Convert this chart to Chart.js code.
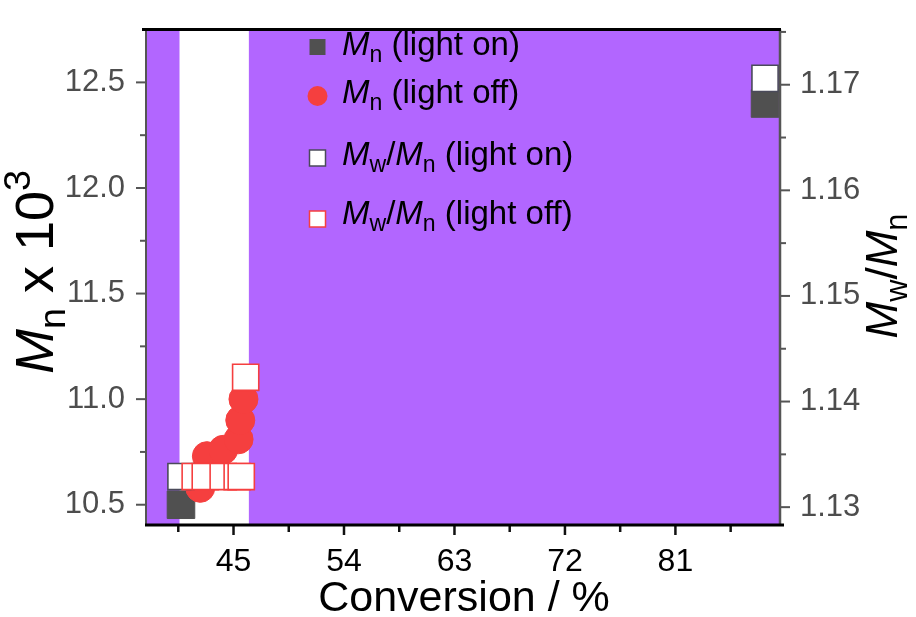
<!DOCTYPE html>
<html><head><meta charset="utf-8">
<script src="https://cdn.jsdelivr.net/npm/chart.js@4.4.0/dist/chart.umd.min.js"></script>
<style>html,body{margin:0;padding:0;background:#fff;} #wrap{width:916px;height:617px;}</style>
</head><body><div id="wrap"><canvas id="c" width="916" height="617"></canvas></div>
<script>
// ---- data ----
const convMnOn   = [40.72, 88.3];
const mnOn       = [10.50, 12.40];
const convPdiOn  = [40.72, 88.3];
const pdiOn      = [1.1329, 1.1706];
const convMnOff  = [42.29, 42.83, 44.16, 45.41, 45.55, 45.81];
const mnOff      = [10.58, 10.73, 10.76, 10.81, 10.90, 11.00];
const convPdiOff = [41.88, 42.70, 44.16, 45.30, 45.63, 45.99];
const pdiOff     = [1.1329, 1.1329, 1.1329, 1.1329, 1.1329, 1.1423];
const lightOffBand = [40.6, 46.25];
const xMajor = [45, 54, 63, 72, 81];
const xMinor = [40.5, 49.5, 58.5, 67.5, 76.5, 85.5];
const yMajor = [10.5, 11.0, 11.5, 12.0, 12.5];
const yMinor = [10.75, 11.25, 11.75, 12.25];
const y2Major = [1.13, 1.14, 1.15, 1.16, 1.17];
const y2Minor = [1.135, 1.145, 1.155, 1.165, 1.175];

const FONT = '"Liberation Sans", Arial, sans-serif';
const PURPLE = '#B266FF', RED = '#F53F3F', DARK = '#505050';
const pts = (xs, ys) => xs.map((x, i) => ({x, y: ys[i]}));
const isIn = (arr, v) => arr.some(a => Math.abs(a - v) < 1e-9);
const fmt = (v, d) => v.toFixed(d);

function setTicks(major, minor) {
  return function(scale) {
    scale.ticks = major.concat(minor).sort((a, b) => a - b).map(v => ({value: v}));
  };
}

function drawRich(ctx, segs, x, y, size, rot, align) {
  ctx.save(); ctx.translate(x, y); ctx.rotate(rot);
  let w = 0;
  const items = segs.map(s => {
    const fs = (s.sub || s.sup) ? size * 0.7 : size;
    const font = (s.it ? 'italic ' : '') + fs + 'px ' + FONT;
    ctx.font = font;
    const m = ctx.measureText(s.t).width;
    w += m;
    return {s, font, m};
  });
  let cx = align === 'center' ? -w / 2 : 0;
  ctx.textBaseline = 'alphabetic'; ctx.textAlign = 'left'; ctx.fillStyle = '#000';
  for (const it of items) {
    ctx.font = it.font;
    const dy = it.s.sub ? size * 0.22 : it.s.sup ? -size * 0.42 : 0;
    ctx.fillText(it.s.t, cx, dy);
    cx += it.m;
  }
  ctx.restore();
}

const decor = {
  id: 'decor',
  beforeDraw(chart) {
    const {ctx, chartArea: a, scales: {x}} = chart;
    ctx.save();
    ctx.fillStyle = PURPLE;
    ctx.fillRect(a.left, a.top, a.right - a.left, a.bottom - a.top);
    const b0 = x.getPixelForValue(lightOffBand[0]), b1 = x.getPixelForValue(lightOffBand[1]);
    ctx.fillStyle = '#fff';
    ctx.fillRect(b0, a.top, b1 - b0, a.bottom - a.top);
    ctx.restore();
  },
  afterDraw(chart) {
    const {ctx, chartArea: a, scales: {x, y, y2}} = chart;
    ctx.save();
    // tick marks
    ctx.lineWidth = 2.5; ctx.strokeStyle = '#111';
    x.ticks.forEach(t => {
      const px = x.getPixelForValue(t.value), len = isIn(xMajor, t.value) ? 10 : 7;
      ctx.beginPath(); ctx.moveTo(px, a.bottom); ctx.lineTo(px, a.bottom + len); ctx.stroke();
    });
    ctx.strokeStyle = '#555'; ctx.lineWidth = 2;
    y.ticks.forEach(t => {
      const py = y.getPixelForValue(t.value), len = isIn(yMajor, t.value) ? 10 : 6;
      ctx.beginPath(); ctx.moveTo(a.left, py); ctx.lineTo(a.left - len, py); ctx.stroke();
    });
    y2.ticks.forEach(t => {
      const py = y2.getPixelForValue(t.value), len = isIn(y2Major, t.value) ? 10 : 6;
      ctx.beginPath(); ctx.moveTo(a.right, py); ctx.lineTo(a.right + len, py); ctx.stroke();
    });
    // axis lines
    ctx.strokeStyle = '#555'; ctx.lineWidth = 2;
    ctx.beginPath(); ctx.moveTo(a.left, a.top); ctx.lineTo(a.left, a.bottom); ctx.stroke();
    ctx.lineWidth = 2.5;
    ctx.beginPath(); ctx.moveTo(a.right, a.top); ctx.lineTo(a.right, a.bottom + 1); ctx.stroke();
    ctx.strokeStyle = '#000'; ctx.lineWidth = 3;
    ctx.beginPath(); ctx.moveTo(a.left - 4, a.top); ctx.lineTo(a.right + 1, a.top); ctx.stroke();
    ctx.beginPath(); ctx.moveTo(a.left - 1, a.bottom); ctx.lineTo(a.right + 4, a.bottom); ctx.stroke();
    ctx.restore();
    // axis titles
    ctx.save(); ctx.fillStyle = '#000'; ctx.font = '43px ' + FONT; ctx.textAlign = 'center';
    ctx.textBaseline = 'alphabetic';
    ctx.fillText('Conversion / %', 464, 611);
    ctx.restore();
    drawRich(ctx, [{t: 'M', it: true}, {t: 'n', sub: true}, {t: ' x 10'}, {t: '3', sup: true}], 53, 272, 54, -Math.PI / 2, 'center');
    drawRich(ctx, [{t: 'M', it: true}, {t: 'w', sub: true}, {t: '/'}, {t: 'M', it: true}, {t: 'n', sub: true}], 897, 276, 44, -Math.PI / 2, 'center');
    // legend
    const lx = 317.5, tx = 342, fs = 33;
    ctx.save();
    ctx.fillStyle = DARK; ctx.fillRect(lx - 8, 39, 16, 16);
    ctx.fillStyle = RED; ctx.beginPath(); ctx.arc(lx, 96, 10, 0, Math.PI * 2); ctx.fill();
    ctx.fillStyle = '#fff'; ctx.strokeStyle = '#4a4a5a'; ctx.lineWidth = 1.5;
    ctx.fillRect(lx - 8, 150, 16, 16); ctx.strokeRect(lx - 8, 150, 16, 16);
    ctx.strokeStyle = RED;
    ctx.fillRect(lx - 8, 211, 16, 16); ctx.strokeRect(lx - 8, 211, 16, 16);
    ctx.restore();
    drawRich(ctx, [{t: 'M', it: true}, {t: 'n', sub: true}, {t: ' (light on)'}], tx, 55, fs, 0, 'left');
    drawRich(ctx, [{t: 'M', it: true}, {t: 'n', sub: true}, {t: ' (light off)'}], tx, 103, fs, 0, 'left');
    drawRich(ctx, [{t: 'M', it: true}, {t: 'w', sub: true}, {t: '/'}, {t: 'M', it: true}, {t: 'n', sub: true}, {t: ' (light on)'}], tx, 165, fs, 0, 'left');
    drawRich(ctx, [{t: 'M', it: true}, {t: 'w', sub: true}, {t: '/'}, {t: 'M', it: true}, {t: 'n', sub: true}, {t: ' (light off)'}], tx, 224, fs, 0, 'left');
  }
};

const tickGrid = {display: true, drawOnChartArea: false, drawTicks: true, tickLength: 10, color: 'rgba(0,0,0,0)'};

new Chart(document.getElementById('c'), {
  type: 'scatter',
  data: {
    datasets: [
      {label: 'Mw/Mn (light off)', data: pts(convPdiOff, pdiOff), yAxisID: 'y2', order: 0,
       pointStyle: 'rect', pointRadius: 18.5, pointHoverRadius: 18.5, backgroundColor: '#fff', borderColor: RED, borderWidth: 1.6},
      {label: 'Mw/Mn (light on)', data: pts(convPdiOn, pdiOn), yAxisID: 'y2', order: 1,
       pointStyle: 'rect', pointRadius: 18.5, pointHoverRadius: 18.5, backgroundColor: '#fff', borderColor: '#4a4a5a', borderWidth: 1.6},
      {label: 'Mn (light off)', data: pts(convMnOff, mnOff), yAxisID: 'y', order: 2,
       pointStyle: 'circle', pointRadius: 14.5, pointHoverRadius: 14.5, backgroundColor: RED, borderColor: RED, borderWidth: 1},
      {label: 'Mn (light on)', data: pts(convMnOn, mnOn), yAxisID: 'y', order: 3,
       pointStyle: 'rect', pointRadius: 19.5, pointHoverRadius: 19.5, backgroundColor: DARK, borderColor: DARK, borderWidth: 1}
    ]
  },
  options: {
    responsive: false, animation: false, devicePixelRatio: 1,
    layout: {padding: {top: 17, left: 0, right: 0, bottom: 0}},
    plugins: {legend: {display: false}, tooltip: {enabled: false}},
    scales: {
      x: {type: 'linear', position: 'bottom', min: 37.87, max: 89.52,
          afterBuildTicks: setTicks(xMajor, xMinor),
          afterFit: s => { s.height = 92; },
          grid: tickGrid, border: {display: false},
          ticks: {padding: 8, color: '#000', font: {size: 32, family: FONT},
                  callback: v => isIn(xMajor, v) ? String(Math.round(v)) : ''}},
      y: {type: 'linear', position: 'left', min: 10.404, max: 12.75,
          afterBuildTicks: setTicks(yMajor, yMinor),
          afterFit: s => { s.width = 146; },
          grid: tickGrid, border: {display: false},
          ticks: {padding: 11, color: '#4d4d4d', font: {size: 31, family: FONT},
                  callback: v => isIn(yMajor, v) ? fmt(v, 1) : ''}},
      y2: {type: 'linear', position: 'right', min: 1.12831, max: 1.17522,
          afterBuildTicks: setTicks(y2Major, y2Minor),
          afterFit: s => { s.width = 136; },
          grid: tickGrid, border: {display: false},
          ticks: {padding: 10, color: '#4d4d4d', font: {size: 31, family: FONT},
                  callback: v => isIn(y2Major, v) ? fmt(v, 2) : ''}}
    }
  },
  plugins: [decor]
});
</script>
</body></html>
